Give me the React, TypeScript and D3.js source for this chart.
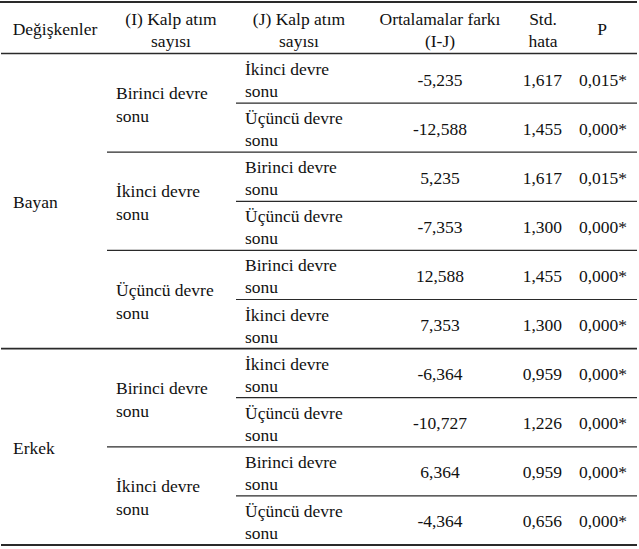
import React from "react";
import * as d3 from "d3";

const headerTop = ["Değişkenler", "(I) Kalp atım", "(J) Kalp atım", "Ortalamalar farkı", "Std.", "P"];
const headerBottom = ["", "sayısı", "sayısı", "(I-J)", "hata", ""];
const genders = ["Bayan", "Bayan", "Bayan", "Bayan", "Bayan", "Bayan", "Erkek", "Erkek", "Erkek", "Erkek"];
const iLabels = [
  "Birinci devre sonu", "Birinci devre sonu",
  "İkinci devre sonu", "İkinci devre sonu",
  "Üçüncü devre sonu", "Üçüncü devre sonu",
  "Birinci devre sonu", "Birinci devre sonu",
  "İkinci devre sonu", "İkinci devre sonu",
];
const jLabels = [
  "İkinci devre sonu", "Üçüncü devre sonu",
  "Birinci devre sonu", "Üçüncü devre sonu",
  "Birinci devre sonu", "İkinci devre sonu",
  "İkinci devre sonu", "Üçüncü devre sonu",
  "Birinci devre sonu", "Üçüncü devre sonu",
];
const meanDiffs = ["-5,235", "-12,588", "5,235", "-7,353", "12,588", "7,353", "-6,364", "-10,727", "6,364", "-4,364"];
const stdErrors = ["1,617", "1,455", "1,617", "1,300", "1,455", "1,300", "0,959", "1,226", "0,959", "0,656"];
const pValues = ["0,015*", "0,000*", "0,015*", "0,000*", "0,000*", "0,000*", "0,000*", "0,000*", "0,000*", "0,000*"];

const W = 639;
const H = 549;
const FONT = "'Liberation Serif', 'Times New Roman', serif";
const FS = 17.5;
const COLOR = "#111";
const LINE = "#2a2a2a";

function split(label: string): [string, string] {
  const i = label.lastIndexOf(" ");
  return [label.slice(0, i), label.slice(i + 1)];
}

function groups(keys: string[]) {
  const out: { label: string; start: number; end: number }[] = [];
  keys.forEach((k, i) => {
    const last = out[out.length - 1];
    if (last && last.label === k && genders[last.start] === genders[i]) last.end = i + 1;
    else out.push({ label: k, start: i, end: i + 1 });
  });
  return out;
}

export default function App() {
  const n = meanDiffs.length;
  const y = d3.scaleLinear().domain([0, n]).range([54, 545]);
  const gGroups = groups(genders);
  const iGroups = groups(iLabels);

  const xGender = 13;
  const xI = 116;
  const xJ = 245;
  const xMean = 440;
  const xStdEnd = 562;
  const xP = 603;
  const lineLeft = 1;
  const lineRight = 637;
  const iLineLeft = 107;
  const jLineLeft = 236;

  const headerX = [55, 171, 299, 440, 543, 602];

  return (
    <svg
      width={W}
      height={H}
      style={{ position: "absolute", left: 0, top: 0, background: "#fff" }}
      fontFamily={FONT}
      fontSize={FS}
      fill={COLOR}
    >
      <rect x={0} y={0} width={W} height={H} fill="#fff" />
      {/* header */}
      {headerTop.map((t, i) =>
        headerBottom[i] ? (
          <g key={i}>
            <text x={headerX[i]} y={25} textAnchor="middle">{t}</text>
            <text x={headerX[i]} y={47} textAnchor="middle">{headerBottom[i]}</text>
          </g>
        ) : (
          <text key={i} x={headerX[i]} y={35} textAnchor="middle">{t}</text>
        )
      )}
      {/* top & header lines */}
      <line x1={0} x2={lineRight} y1={2} y2={2} stroke={LINE} strokeWidth={2.2} />
      <line x1={lineLeft} x2={lineRight} y1={53.5} y2={53.5} stroke={LINE} strokeWidth={1.5} />

      {/* gender groups */}
      {gGroups.map((g, i) => {
        const c = (y(g.start) + y(g.end)) / 2;
        return (
          <g key={"g" + i}>
            <text x={xGender} y={c + 7}>{g.label}</text>
            <line
              x1={lineLeft}
              x2={lineRight}
              y1={y(g.end)}
              y2={y(g.end)}
              stroke={LINE}
              strokeWidth={g.end === n ? 2.2 : 1.6}
            />
          </g>
        );
      })}

      {/* I groups */}
      {iGroups.map((g, i) => {
        const c = (y(g.start) + y(g.end)) / 2;
        const [a, b] = split(g.label);
        const isGenderEnd = g.end === n || genders[g.end] !== genders[g.start];
        return (
          <g key={"i" + i}>
            <text x={xI} y={c - 4}>{a}</text>
            <text x={xI} y={c + 19}>{b}</text>
            {!isGenderEnd && (
              <line x1={iLineLeft} x2={lineRight} y1={y(g.end)} y2={y(g.end)} stroke={LINE} strokeWidth={1.2} />
            )}
          </g>
        );
      })}

      {/* rows */}
      {meanDiffs.map((m, i) => {
        const top = y(i);
        const bottom = y(i + 1);
        const c = (top + bottom) / 2;
        const [a, b] = split(jLabels[i]);
        const iEnd = iGroups.some((g) => g.end === i + 1);
        return (
          <g key={"r" + i}>
            <text x={xJ} y={top + 21}>{a}</text>
            <text x={xJ} y={top + 43}>{b}</text>
            <text x={xMean} y={c + 7} textAnchor="middle">{m}</text>
            <text x={xStdEnd} y={c + 7} textAnchor="end">{stdErrors[i]}</text>
            <text x={xP} y={c + 7} textAnchor="middle">{pValues[i]}</text>
            {!iEnd && (
              <line x1={jLineLeft} x2={lineRight} y1={bottom} y2={bottom} stroke={LINE} strokeWidth={1.2} />
            )}
          </g>
        );
      })}
    </svg>
  );
}
